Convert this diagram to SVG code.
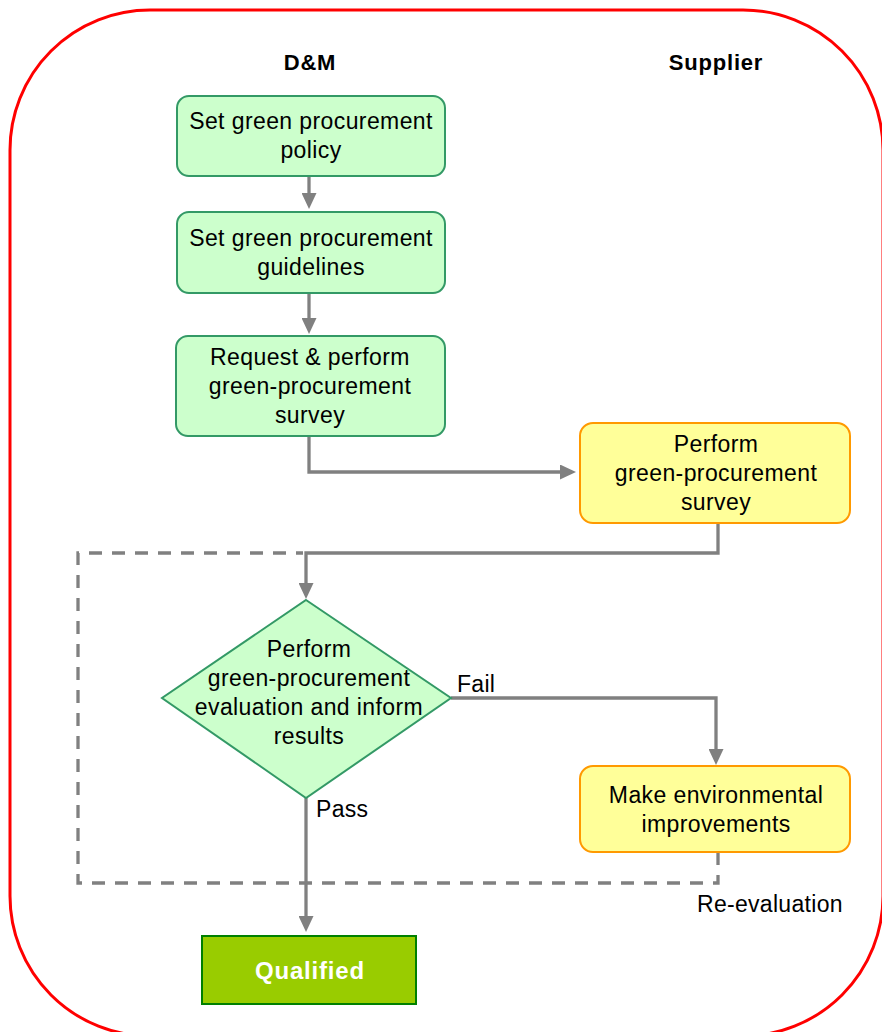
<svg xmlns="http://www.w3.org/2000/svg" width="882" height="1032" viewBox="0 0 882 1032">
  <style>
    .t { font-family: "Liberation Sans", Arial, sans-serif; font-size: 23px; letter-spacing: 0.4px; fill: #000; text-anchor: middle; }
    .h { font-family: "Liberation Sans", Arial, sans-serif; font-size: 22px; font-weight: bold; letter-spacing: 0.8px; fill: #000; text-anchor: middle; }
    .lbl { font-family: "Liberation Sans", Arial, sans-serif; font-size: 23px; letter-spacing: 0.3px; fill: #000; }
    .g { fill: #ccffcc; stroke: #339966; stroke-width: 2; }
    .y { fill: #ffff99; stroke: #ff9900; stroke-width: 2; }
    .c { fill: none; stroke: #808080; stroke-width: 3.3; }
    .d { fill: none; stroke: #808080; stroke-width: 3.3; stroke-dasharray: 13 10; }
  </style>
  <defs>
    <marker id="arr" viewBox="0 0 16 15" refX="12" refY="7.5" markerWidth="16" markerHeight="15" orient="auto" markerUnits="userSpaceOnUse">
      <path d="M0,0 L16,7.5 L0,15 z" fill="#808080"/>
    </marker>
  </defs>
  <rect x="0" y="0" width="882" height="1032" fill="#ffffff"/>
  <rect id="frame" x="10" y="10" width="873" height="1026" rx="140" ry="140" fill="none" stroke="#ff0000" stroke-width="3"/>

  <g id="headers">
    <text class="h" x="310" y="70">D&amp;M</text>
    <text class="h" x="716" y="70">Supplier</text>
  </g>

  <g id="connectors">
    <path class="d" d="M718,852 V883 H78 V553 H303"/>
    <path class="c" d="M309,176 V205" marker-end="url(#arr)"/>
    <path class="c" d="M309,293 V330" marker-end="url(#arr)"/>
    <path class="c" d="M309,436 V472 H572" marker-end="url(#arr)"/>
    <path class="c" d="M718,523 V553 H306 V595" marker-end="url(#arr)"/>
    <path class="c" d="M451,698 H716 V761" marker-end="url(#arr)"/>
    <path class="c" d="M306,798 V928" marker-end="url(#arr)"/>
    <text class="lbl" x="457" y="692">Fail</text>
    <text class="lbl" x="316" y="817">Pass</text>
    <text class="lbl" x="697" y="912">Re-evaluation</text>
  </g>

  <g id="policy">
    <rect class="g" x="177" y="96" width="268" height="80" rx="12"/>
    <text class="t" x="311" y="129">Set green procurement</text>
    <text class="t" x="311" y="158">policy</text>
  </g>
  <g id="guidelines">
    <rect class="g" x="177" y="212" width="268" height="81" rx="12"/>
    <text class="t" x="311" y="246">Set green procurement</text>
    <text class="t" x="311" y="275">guidelines</text>
  </g>
  <g id="request">
    <rect class="g" x="176" y="336" width="269" height="100" rx="12"/>
    <text class="t" x="310" y="365">Request &amp; perform</text>
    <text class="t" x="310" y="394">green-procurement</text>
    <text class="t" x="310" y="423">survey</text>
  </g>
  <g id="supplier-survey">
    <rect class="y" x="580" y="423" width="270" height="100" rx="13"/>
    <text class="t" x="716" y="452">Perform</text>
    <text class="t" x="716" y="481">green-procurement</text>
    <text class="t" x="716" y="510">survey</text>
  </g>
  <g id="evaluation">
    <polygon class="g" points="306,600 451,698 306,798 162,698"/>
    <text class="t" x="309" y="657">Perform</text>
    <text class="t" x="309" y="686">green-procurement</text>
    <text class="t" x="309" y="715">evaluation and inform</text>
    <text class="t" x="309" y="744">results</text>
  </g>
  <g id="improvements">
    <rect class="y" x="580" y="766" width="270" height="86" rx="13"/>
    <text class="t" x="716" y="803">Make environmental</text>
    <text class="t" x="716" y="832">improvements</text>
  </g>
  <g id="qualified">
    <rect x="202" y="936" width="214" height="68" fill="#99cc00" stroke="#008000" stroke-width="2"/>
    <text x="310" y="979" font-family="&quot;Liberation Sans&quot;, Arial, sans-serif" font-size="24" font-weight="bold" letter-spacing="0.8" fill="#ffffff" text-anchor="middle">Qualified</text>
  </g>
</svg>
